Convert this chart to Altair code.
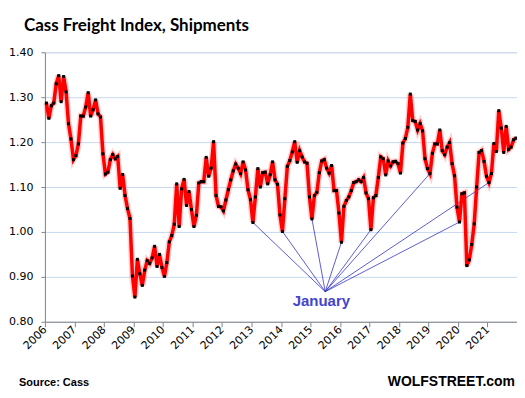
import altair as alt
import pandas as pd

# Monthly Cass Freight Index, Shipments (Jan..Dec for each year)
first_year = 2006
v2006 = [1.287, 1.253, 1.281, 1.287, 1.330, 1.348, 1.290, 1.346, 1.312, 1.241, 1.207, 1.161]
v2007 = [1.170, 1.196, 1.258, 1.258, 1.278, 1.310, 1.258, 1.272, 1.294, 1.263, 1.256, 1.174]
v2008 = [1.129, 1.133, 1.161, 1.172, 1.163, 1.168, 1.097, 1.128, 1.081, 1.052, 1.030, 0.902]
v2009 = [0.855, 0.939, 0.907, 0.881, 0.915, 0.936, 0.930, 0.942, 0.968, 0.923, 0.950, 0.921]
v2010 = [0.901, 0.932, 0.978, 0.992, 1.017, 1.107, 1.012, 1.096, 1.117, 1.059, 1.090, 1.050]
v2011 = [1.012, 1.037, 1.109, 1.112, 1.112, 1.166, 1.124, 1.142, 1.201, 1.081, 1.057, 1.056]
v2012 = [1.047, 1.071, 1.094, 1.116, 1.136, 1.151, 1.142, 1.130, 1.156, 1.138, 1.094, 1.072]
v2013 = [1.021, 1.078, 1.141, 1.100, 1.132, 1.133, 1.107, 1.127, 1.156, 1.116, 1.106, 1.038]
v2014 = [1.001, 1.074, 1.146, 1.159, 1.178, 1.201, 1.155, 1.181, 1.167, 1.156, 1.153, 1.078]
v2015 = [1.029, 1.081, 1.088, 1.132, 1.158, 1.161, 1.142, 1.131, 1.148, 1.092, 1.092, 1.042]
v2016 = [0.977, 1.057, 1.070, 1.078, 1.092, 1.110, 1.112, 1.116, 1.112, 1.121, 1.087, 1.074]
v2017 = [1.005, 1.076, 1.081, 1.121, 1.167, 1.163, 1.127, 1.158, 1.147, 1.156, 1.157, 1.152]
v2018 = [1.131, 1.198, 1.208, 1.233, 1.307, 1.248, 1.246, 1.227, 1.241, 1.225, 1.163, 1.141]
v2019 = [1.130, 1.175, 1.196, 1.196, 1.227, 1.181, 1.172, 1.189, 1.199, 1.152, 1.125, 1.055]
v2020 = [1.022, 1.085, 1.087, 0.925, 0.938, 0.972, 1.018, 1.100, 1.177, 1.181, 1.157, 1.124]
v2021 = [1.110, 1.130, 1.197, 1.179, 1.270, 1.231, 1.177, 1.235, 1.184, 1.189, 1.205, 1.209]

series = [v2006, v2007, v2008, v2009, v2010, v2011, v2012, v2013,
          v2014, v2015, v2016, v2017, v2018, v2019, v2020, v2021]

year_ticks = list(range(2006, 2023))
y_ticks = [0.8, 0.9, 1.0, 1.1, 1.2, 1.3, 1.4]

# January lows that the annotation points to
jan_years = [2013, 2014, 2015, 2016, 2017, 2019, 2020, 2021]
apex_t = 2015.5
apex_v = 0.867

rows = []
for i, vals in enumerate(series):
    y = first_year + i
    for m, v in enumerate(vals):
        rows.append({"t": y + (m + 0.6) / 12.0, "v": v})
df = pd.DataFrame(rows)

ann = pd.DataFrame([
    {"t": y + 0.6 / 12.0, "v": series[y - first_year][0], "t0": apex_t, "v0": apex_v}
    for y in jan_years
])

xscale = alt.Scale(domain=[2006, 2022], nice=False, zero=False)
yscale = alt.Scale(domain=[0.8, 1.4], nice=False, zero=False)

xaxis = alt.Axis(values=year_ticks, format="d", labelAngle=-45,
                 labelAlign="right", labelBaseline="middle",
                 labelOverlap=False, labelBound=False, labelFlush=False,
                 labelExpr="datum.value == 2022 ? '' : datum.label",
                 grid=False, domainColor="#868686", tickColor="#868686",
                 tickSize=5, labelFont="DejaVu Sans", labelFontSize=11,
                 labelColor="#000000", title=None, labelPadding=1)
yaxis = alt.Axis(values=y_ticks, format=".2f", grid=True, gridColor="#C6D9F1",
                 gridWidth=1, domainColor="#868686", tickColor="#868686",
                 tickSize=4, labelFont="DejaVu Sans", labelFontSize=11,
                 labelColor="#000000", title=None, labelPadding=8)

X = alt.X("t:Q", scale=xscale, axis=xaxis)
Y = alt.Y("v:Q", scale=yscale, axis=yaxis)

base = alt.Chart(df)

glow = base.mark_line(color="#FF0000", strokeWidth=6.5, opacity=0.18).encode(x=X, y=Y)
line = base.mark_line(color="#FF0000", strokeWidth=3.5).encode(x=X, y=Y)
pts = base.mark_point(filled=True, color="#000000", size=9, opacity=1,
                      shape="square").encode(x=X, y=Y)

rules = alt.Chart(ann).mark_rule(color="#3535CC", strokeWidth=0.8).encode(
    x=alt.X("t0:Q", scale=xscale, axis=xaxis),
    y=alt.Y("v0:Q", scale=yscale, axis=yaxis),
    x2="t:Q",
    y2="v:Q",
)

title = alt.Chart(pd.DataFrame({"s": ["Cass Freight Index, Shipments"]})).mark_text(
    align="left", baseline="alphabetic", font="Lato", fontSize=17,
    fontWeight="bold", color="#000000"
).encode(text="s:N", x=alt.value(-21), y=alt.value(-21))

jan = alt.Chart(pd.DataFrame({"s": ["January"]})).mark_text(
    align="center", baseline="middle", font="Liberation Sans", fontSize=15,
    fontWeight="bold", color="#4444CC"
).encode(text="s:N", x=alt.value(277), y=alt.value(249))

source = alt.Chart(pd.DataFrame({"s": ["Source: Cass"]})).mark_text(
    align="left", baseline="alphabetic", font="Liberation Sans", fontSize=11,
    fontWeight="bold", color="#000000"
).encode(text="s:N", x=alt.value(-26), y=alt.value(334))

wolf = alt.Chart(pd.DataFrame({"s": ["WOLFSTREET.com"]})).mark_text(
    align="right", baseline="alphabetic", font="Liberation Sans", fontSize=14,
    fontWeight="bold", color="#000000"
).encode(text="s:N", x=alt.value(471), y=alt.value(334))

chart = alt.layer(glow, rules, line, pts, title, jan, source, wolf).properties(
    width=473, height=270,
    autosize=alt.AutoSizeParams(type="none"),
    padding={"left": 37, "top": 44, "right": 0, "bottom": 70},
).configure_view(stroke=None).configure(background="#FFFFFF")

chart.save("out.html", embed_options={"renderer": "svg", "actions": False})
